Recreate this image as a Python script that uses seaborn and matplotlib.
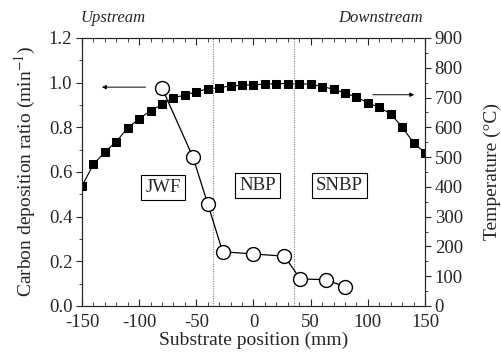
import matplotlib
matplotlib.use("Agg")
import matplotlib.pyplot as plt
import seaborn as sns
import pandas as pd
import numpy as np
from matplotlib.ticker import MultipleLocator

# ---- data ----
temp_pos = [-150, -140, -130, -120, -110, -100, -90, -80, -70, -60, -50, -40, -30, -20, -10,
            0, 10, 20, 30, 40, 50, 60, 70, 80, 90, 100, 110, 120, 130, 140, 150]
temp_vals = [403, 476, 517, 552, 598, 629, 656, 677, 700, 708, 720, 729, 733, 739, 741,
             743, 745, 747, 747, 746, 745, 737, 728, 715, 702, 682, 667, 645, 601, 548, 515]

dep_pos = [-80, -53, -40, -27, 0, 27, 41, 63, 80]
dep_vals = [0.976, 0.667, 0.457, 0.243, 0.233, 0.223, 0.121, 0.118, 0.087]

region_bounds = [-35, 35]
region_labels = ["JWF", "NBP", "SNBP"]
region_label_x = [-79, 3.5, 75]
region_label_y = [0.53, 0.538, 0.538]

temp_df = pd.DataFrame({"pos": temp_pos, "temp": temp_vals})
dep_df = pd.DataFrame({"pos": dep_pos, "dep": dep_vals})

sns.set_style("ticks")
plt.rcParams['font.family'] = ['Liberation Serif', 'DejaVu Serif']
plt.rcParams['mathtext.fontset'] = 'stix'
plt.rcParams['axes.unicode_minus'] = False

fig = plt.figure(figsize=(5.02, 3.59), dpi=100)
ax1 = fig.add_axes([82/502, 53/359, 343/502, 268/359])
ax2 = ax1.twinx()

# temperature (squares) on right axis
sns.lineplot(data=temp_df, x="pos", y="temp", ax=ax2, color="black", lw=0.8,
             marker="s", markersize=6.0, markerfacecolor="black",
             markeredgecolor="black", clip_on=True)
ax2.set_ylim(0, 900)
ax2.yaxis.set_major_locator(MultipleLocator(100))
ax2.yaxis.set_minor_locator(MultipleLocator(50))
ax2.set_ylabel("Temperature (°C)", fontsize=14, labelpad=15)

# deposition ratio (circles) on left axis, drawn on top
ax1.set_zorder(ax2.get_zorder() + 1)
ax1.patch.set_visible(False)
sns.lineplot(data=dep_df, x="pos", y="dep", ax=ax1, color="black", lw=0.9,
             marker="o", markersize=10, markerfacecolor="white",
             markeredgecolor="black", markeredgewidth=1.0)
ax1.set_xlim(-150, 150)
ax1.set_ylim(0, 1.2)
ax1.xaxis.set_major_locator(MultipleLocator(50))
ax1.xaxis.set_minor_locator(MultipleLocator(10))
ax1.yaxis.set_major_locator(MultipleLocator(0.2))
ax1.yaxis.set_minor_locator(MultipleLocator(0.1))
ax1.yaxis.set_major_formatter(matplotlib.ticker.FormatStrFormatter('%.1f'))
ax1.set_xlabel("Substrate position (mm)", fontsize=14, labelpad=1)
ax1.set_ylabel("Carbon deposition ratio (min$^{-1}$)", fontsize=14, labelpad=8)

for xb in region_bounds:
    ax1.axvline(xb, color="gray", ls=(0, (1, 1.2)), lw=0.8, zorder=0)

for lab, lx, ly in zip(region_labels, region_label_x, region_label_y):
    ax1.text(lx, ly, lab, ha="center", va="center", fontsize=13.5,
             bbox=dict(boxstyle="square,pad=0.22", fc="white", ec="black", lw=0.8))

# arrows
ax1.annotate("", xy=(-135, 0.98), xytext=(-92, 0.98),
             arrowprops=dict(arrowstyle="-|>", lw=0.7, color="black",
                             mutation_scale=6))
ax1.annotate("", xy=(143, 0.946), xytext=(102, 0.946),
             arrowprops=dict(arrowstyle="-|>", lw=0.7, color="black",
                             mutation_scale=6))

# ticks
ax1.tick_params(axis="x", which="both", direction="in", top=True, labelsize=13.5, pad=5.5)
ax1.tick_params(axis="x", which="major", length=5)
ax1.tick_params(axis="x", which="minor", length=3)
ax1.tick_params(axis="y", which="both", direction="out", labelsize=13.5, pad=3)
ax1.tick_params(axis="y", which="major", length=4)
ax1.tick_params(axis="y", which="minor", length=2.5)
ax2.tick_params(axis="y", which="both", direction="out", labelsize=13.5, pad=3)
ax2.tick_params(axis="y", which="major", length=4)
ax2.tick_params(axis="y", which="minor", length=2.5)
ax2.xaxis.set_visible(False)

for ax in (ax1, ax2):
    for sp in ax.spines.values():
        sp.set_linewidth(0.8)
        sp.set_visible(True)

fig.text(80/502, 1 - 18/359, "Upstream", style="italic", fontsize=12, ha="left", va="center")
fig.text(423/502, 1 - 18/359, "Downstream", style="italic", fontsize=12, ha="right", va="center")

fig.savefig("out.png", dpi=100)
